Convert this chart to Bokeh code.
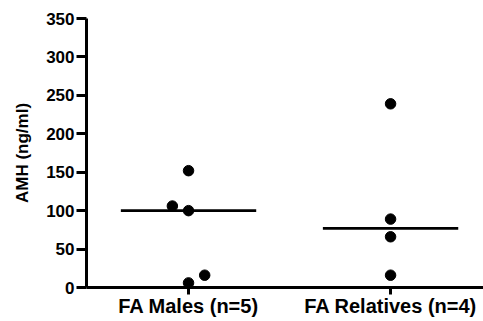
from bokeh.plotting import figure
from bokeh.models import FixedTicker, Range1d
from bokeh.embed import file_html
from bokeh.resources import INLINE

groups = ["FA Males (n=5)", "FA Relatives (n=4)"]
males = [152, 106, 100, 6, 16]
males_jitter = [0.0, -0.08, 0.0, 0.0, 0.08]
relatives = [239, 89, 66, 16]
relatives_jitter = [0.0, 0.0, 0.0, 0.0]
medians = [100, 77]
y_ticks = [0, 50, 100, 150, 200, 250, 300, 350]

FONT = "Liberation Sans"

p = figure(width=483, height=321, output_backend="svg", toolbar_location=None,
           x_range=Range1d(0.495, 2.46), y_range=Range1d(0, 350),
           min_border_top=18, min_border_bottom=34, min_border_right=0, min_border_left=86)
p.outline_line_color = None
p.xgrid.visible = False
p.ygrid.visible = False

xs = [1 + j for j in males_jitter] + [2 + j for j in relatives_jitter]
ys = males + relatives
p.scatter(xs, ys, size=10.5, color="black")

half = 0.335
p.segment(x0=[i + 1 - half for i in range(len(groups))],
          x1=[i + 1 + half for i in range(len(groups))],
          y0=medians, y1=medians, line_color="black", line_width=2.7)

p.xaxis.ticker = FixedTicker(ticks=[1, 2])
p.xaxis.major_label_overrides = {1: groups[0], 2: groups[1]}
p.yaxis.ticker = FixedTicker(ticks=y_ticks)
p.yaxis.axis_label = "AMH (ng/ml)"

for ax in (p.xaxis, p.yaxis):
    ax.axis_line_width = 3
    ax.axis_line_color = "black"
    ax.major_tick_line_width = 3
    ax.major_tick_line_color = "black"
    ax.major_tick_in = 0
    ax.minor_tick_line_color = None
    ax.major_label_text_font = FONT
    ax.major_label_text_font_style = "bold"
    ax.major_label_text_color = "black"

p.xaxis.major_tick_out = 7
p.xaxis.major_label_standoff = 0
p.xaxis.major_label_text_font_size = "20px"
p.yaxis.major_tick_out = 10
p.yaxis.major_label_standoff = 2
p.yaxis.major_label_text_font_size = "17px"
p.yaxis.axis_label_text_font = FONT
p.yaxis.axis_label_text_font_style = "bold"
p.yaxis.axis_label_text_font_size = "17px"
p.yaxis.axis_label_text_color = "black"
p.yaxis.axis_label_standoff = 11

open("out.html", "w").write(file_html(p, INLINE))
